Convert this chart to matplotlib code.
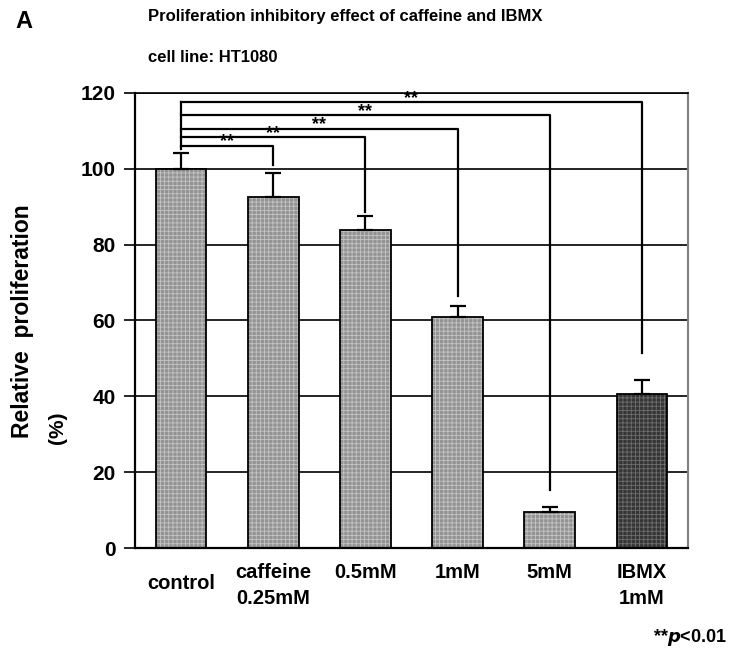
import numpy as np
import matplotlib
matplotlib.use("Agg")
import matplotlib.pyplot as plt
from matplotlib.transforms import ScaledTranslation

plt.rcParams['font.family'] = ['Liberation Sans', 'DejaVu Sans']
plt.rcParams['font.weight'] = 'bold'
plt.rcParams['hatch.linewidth'] = 0.6

# data
labels = ['control', 'caffeine\n0.25mM', '0.5mM', '1mM', '5mM', 'IBMX\n1mM']
values = [100.0, 92.6, 83.9, 60.8, 9.5, 40.6]
errors = [4.1, 6.3, 3.7, 3.1, 1.4, 3.7]
fills = ['#939393', '#939393', '#939393', '#939393', '#939393', '#353535']
hatch_cols = ['#c4c4c4', '#c4c4c4', '#c4c4c4', '#c4c4c4', '#c4c4c4', '#6e6e6e']

# significance brackets: control vs each group
sig_to = [1, 2, 3, 4, 5]
sig_height = [106.1, 108.3, 110.6, 114.1, 117.5]
sig_bottom = [101.0, 88.7, 66.5, 15.3, 51.5]
sig_text = ['**', '**', '**', '**', '**']

fig = plt.figure(figsize=(7.32, 6.58), dpi=100)
ax = fig.add_axes([135/732, 1-548/658, 553/732, 455/658])

x = np.arange(len(labels))
w = 0.55
# hatched fill, then black outline on top
ax.bar(x, values, w, color=fills, edgecolor=hatch_cols, linewidth=0, hatch='++++', zorder=2)
ax.bar(x, values, w, fill=False, edgecolor='black', linewidth=1.3, zorder=3)
ax.errorbar(x, values, yerr=[np.zeros(len(x)), errors], fmt='none', ecolor='black',
            elinewidth=1.6, capsize=6, capthick=1.6, zorder=4)

# brackets
for j, h, b, t in zip(sig_to, sig_height, sig_bottom, sig_text):
    ax.plot([0, j, j], [h, h, b], color='black', lw=1.6, zorder=5, clip_on=False)
    ax.text(j/2, h - 1.2, t, ha='center', va='bottom', fontsize=13, zorder=6)
ax.plot([0, 0], [max(sig_height), values[0] + errors[0] + 1], color='black', lw=1.6, zorder=5)

ax.set_xlim(-0.5, len(labels) - 0.5)
ax.set_ylim(0, 120)
ax.set_yticks(np.arange(0, 121, 20))
ax.yaxis.grid(True, color='black', lw=1.2, zorder=0)
ax.set_axisbelow(True)
ax.tick_params(axis='y', direction='out', length=8, width=1.2, labelsize=15, pad=6)
ax.tick_params(axis='x', length=0, labelsize=14.5, pad=11)
ax.set_xticks(x)
ax.set_xticklabels(labels, va='top', linespacing=1.45)
first = ax.get_xticklabels()[0]
first.set_transform(first.get_transform() + ScaledTranslation(0, -7.5/72, fig.dpi_scale_trans))

for s in ['left', 'bottom']:
    ax.spines[s].set_linewidth(1.6)
ax.spines['right'].set_color('#808080')
ax.spines['right'].set_linewidth(1.5)
ax.spines['top'].set_linewidth(1.2)

fig.text(23/732, 1-321/658, 'Relative  proliferation', rotation=90, ha='center', va='center', fontsize=16.5)
fig.text(57/732, 1-428/658, '(%)', rotation=90, ha='center', va='center', fontsize=15)

fig.text(15/732, 1-22/658, 'A', ha='left', va='center', fontsize=17)
fig.text(148/732, 1-16/658, 'Proliferation inhibitory effect of caffeine and IBMX', ha='left', va='center', fontsize=12)
fig.text(148/732, 1-58/658, 'cell line: HT1080', ha='left', va='center', fontsize=12)
fig.text(727/732, 1-637/658, r'**$\mathbf{\it{p}}$<0.01', ha='right', va='center', fontsize=13)

fig.savefig('out.png', dpi=100)
